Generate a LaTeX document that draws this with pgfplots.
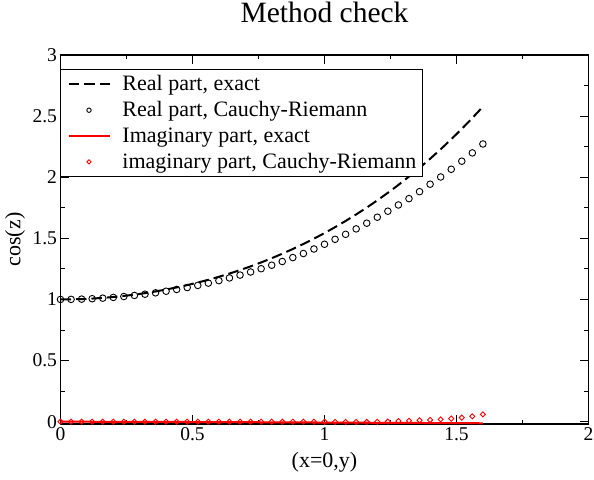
\documentclass[border=0pt]{standalone}
\usepackage{fontspec}
\setmainfont{Liberation Serif}
\usepackage{pgfplots}
\pgfplotsset{compat=1.18}
\pgfplotsset{
  legcirc/.style={legend image code/.code={\draw[##1, mark size=2.2pt] plot coordinates {(20.5pt,0pt)};}},
  legdiam/.style={legend image code/.code={\draw[##1, mark size=1.5pt] plot coordinates {(20.5pt,0pt)};}},
}
\begin{document}
\begin{tikzpicture}
\begin{axis}[
  at={(0,0)}, anchor=south west,
  scale only axis, width=528pt, height=369pt,
  xmin=0, xmax=2, ymin=-0.019, ymax=3,
  clip=false,
  xtick={0,0.5,1,1.5,2}, xticklabels={0,0.5,1,1.5,2},
  ytick={0,0.5,1,1.5,2,2.5,3}, yticklabels={0,0.5,1,1.5,2,2.5,3},
  minor tick num=1,
  tick align=inside,
  major tick length=9pt, minor tick length=4.5pt,
  every tick/.style={black, line width=1pt},
  axis line style={line width=1.5pt},
  ticklabel style={font=\fontsize{19.5}{22}\selectfont},
  title={Method check},
  title style={at={(0.5,1)}, anchor=base, yshift=26.3pt, inner sep=0pt, font=\fontsize{29.5}{34}\selectfont},
  xlabel={(x=0,y)},
  xlabel style={at={(0.5,-0.103)}, anchor=center, font=\fontsize{22}{26}\selectfont},
  ylabel={cos(z)},
  ylabel style={at={(-0.0862,0.5)}, anchor=center, font=\fontsize{22}{26}\selectfont},
  legend cell align=left,
  legend style={at={(0,0.962)}, anchor=north west, draw=black, line width=1pt,
    inner xsep=6.5pt, inner ysep=3pt, row sep=2pt, column sep=12pt,
    font=\fontsize{22}{26}\selectfont,
    nodes={inner sep=0pt, text height=18.4pt, text depth=5.4pt}},
  legend image code/.code={\draw[#1] (0pt,0pt) -- (41pt,0pt);},
]
% Real part, exact
\addplot[black, line width=2pt, dash pattern=on 10.5pt off 5pt] coordinates {
(0,1) (0.04,1.0008) (0.08,1.0032) (0.12,1.00721) (0.16,1.01282) (0.20,1.02007)
(0.24,1.02894) (0.28,1.03946) (0.32,1.05162) (0.36,1.06544) (0.40,1.08107)
(0.44,1.09837) (0.48,1.11743) (0.52,1.13828) (0.56,1.16094) (0.60,1.18547)
(0.64,1.21189) (0.68,1.24025) (0.72,1.27059) (0.76,1.30297) (0.80,1.33743)
(0.84,1.37404) (0.88,1.41284) (0.92,1.45390) (0.96,1.49729) (1.00,1.54308)
(1.04,1.59134) (1.08,1.64214) (1.12,1.69557) (1.16,1.75171) (1.20,1.81066)
(1.24,1.87250) (1.28,1.93734) (1.32,2.00528) (1.36,2.07643) (1.40,2.15090)
(1.44,2.22881) (1.48,2.31029) (1.52,2.39547) (1.56,2.48448) (1.60,2.57746)
};
\addlegendentry{Real part, exact}
% Real part, Cauchy-Riemann
\addplot[black, only marks, mark=o, mark size=3.3pt, mark options={line width=0.9pt}, legcirc] coordinates {
(0,1) (0.04,1.0007) (0.08,1.0027) (0.12,1.0060) (0.16,1.0106) (0.20,1.0167)
(0.24,1.0240) (0.28,1.0328) (0.32,1.0428) (0.36,1.0543) (0.40,1.0673)
(0.44,1.0817) (0.48,1.0975) (0.52,1.1148) (0.56,1.1336) (0.60,1.1539)
(0.64,1.1759) (0.68,1.1994) (0.72,1.2246) (0.76,1.2515) (0.80,1.2801)
(0.84,1.3105) (0.88,1.3427) (0.92,1.3760) (0.96,1.4128) (1.00,1.4515)
(1.04,1.4920) (1.08,1.5330) (1.12,1.5773) (1.16,1.6239) (1.20,1.6728)
(1.24,1.722) (1.28,1.773) (1.32,1.825) (1.36,1.882) (1.40,1.943)
(1.44,2.002) (1.48,2.065) (1.52,2.131) (1.56,2.199) (1.60,2.272)
};
\addlegendentry{Real part, Cauchy-Riemann}
% Imaginary part, exact
\addplot[red, line width=2pt] coordinates {
(0,0) (0.4,-0.002) (0.8,-0.005) (1.2,-0.009) (1.6,-0.013)
};
\addlegendentry{Imaginary part, exact}
% imaginary part, Cauchy-Riemann
\addplot[red, only marks, mark=square, mark size=1.8pt, mark options={rotate=45, line width=0.9pt}, legdiam] coordinates {
(0,0) (0.04,0) (0.08,0) (0.12,0) (0.16,0) (0.20,0)
(0.24,0) (0.28,0) (0.32,0) (0.36,0) (0.40,0)
(0.44,0) (0.48,0) (0.52,0) (0.56,0) (0.60,0)
(0.64,0) (0.68,0) (0.72,0) (0.76,0) (0.80,0)
(0.84,0) (0.88,0) (0.92,0) (0.96,0) (1.00,0)
(1.04,-0.002) (1.08,-0.002) (1.12,-0.002) (1.16,-0.002) (1.20,-0.001)
(1.24,0.001) (1.28,0.005) (1.32,0.008) (1.36,0.011) (1.40,0.014)
(1.44,0.019) (1.48,0.025) (1.52,0.033) (1.56,0.044) (1.60,0.060)
};
\addlegendentry{imaginary part, Cauchy-Riemann}
\end{axis}
\pgfresetboundingbox
\path (-60.5pt,-55pt) rectangle (533.5pt,424pt);
\end{tikzpicture}
\end{document}
